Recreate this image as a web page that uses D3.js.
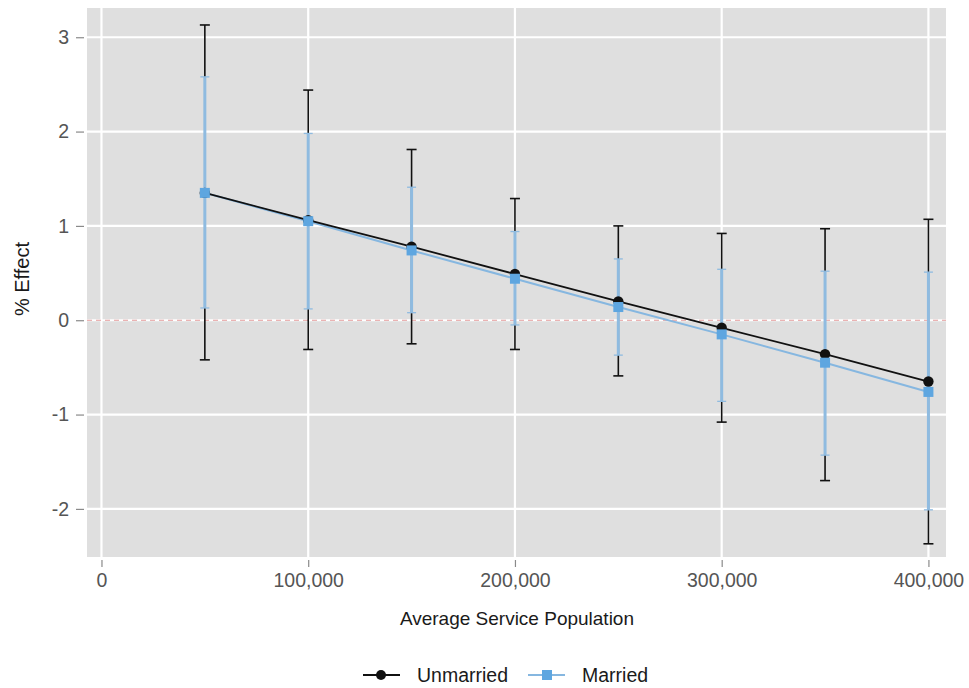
<!DOCTYPE html>
<html>
<head>
<meta charset="utf-8">
<script src="https://cdn.jsdelivr.net/npm/d3@7"></script>
<style>
  html, body { margin: 0; padding: 0; background: #ffffff; }
  svg { display: block; font-family: "Liberation Sans", Arial, Helvetica, sans-serif; }
</style>
</head>
<body>
<svg id="chart" width="969" height="688"></svg>
<script>
// Average service population (x positions of the estimates)
const population = [50000, 100000, 150000, 200000, 250000, 300000, 350000, 400000];

// Unmarried: point estimate and 95% interval
const unmarriedEst   = [1.35, 1.06, 0.78, 0.49, 0.20, -0.08, -0.36, -0.65];
const unmarriedLower = [-0.42, -0.31, -0.25, -0.31, -0.59, -1.08, -1.70, -2.37];
const unmarriedUpper = [3.13, 2.44, 1.81, 1.29, 1.00, 0.92, 0.97, 1.07];

// Married: point estimate and 95% interval
const marriedEst   = [1.35, 1.05, 0.74, 0.44, 0.14, -0.15, -0.45, -0.76];
const marriedLower = [0.13, 0.12, 0.08, -0.05, -0.37, -0.86, -1.43, -2.01];
const marriedUpper = [2.58, 1.98, 1.41, 0.94, 0.65, 0.54, 0.52, 0.51];

const xTicks = [0, 100000, 200000, 300000, 400000];
const yTicks = [-2, -1, 0, 1, 2, 3];
const seriesNames = ["Unmarried", "Married"];

const svg = d3.select("#chart");
const panel = { left: 87, right: 946, top: 8, bottom: 557 };

const x = d3.scaleLinear().domain([-7000, 408500]).range([panel.left, panel.right]);
const y = d3.scaleLinear().domain([-2.51, 3.31]).range([panel.bottom, panel.top]);

const colBlack = "#111111";
const colBlueLine = "#86b7e0";
const colBlueBar = "#8fbbe0";
const colBlueMark = "#5ea6e0";

// panel background
svg.append("rect")
  .attr("x", panel.left).attr("y", panel.top)
  .attr("width", panel.right - panel.left).attr("height", panel.bottom - panel.top)
  .attr("fill", "#dfdfdf");

// grid
const grid = svg.append("g");
grid.selectAll("line.gx").data(xTicks).join("line")
  .attr("x1", d => x(d)).attr("x2", d => x(d))
  .attr("y1", panel.top).attr("y2", panel.bottom)
  .attr("stroke", "#ffffff").attr("stroke-width", 2.2);
grid.selectAll("line.gy").data(yTicks).join("line")
  .attr("x1", panel.left).attr("x2", panel.right)
  .attr("y1", d => y(d)).attr("y2", d => y(d))
  .attr("stroke", "#ffffff").attr("stroke-width", 2.2);

// zero reference
svg.append("line")
  .attr("x1", panel.left).attr("x2", panel.right)
  .attr("y1", y(0)).attr("y2", y(0))
  .attr("stroke", "#e39a9a").attr("stroke-width", 1.2)
  .attr("stroke-dasharray", "5,4");

// axes
const xAxis = d3.axisBottom(x).tickValues(xTicks)
  .tickFormat(d3.format(",")).tickSize(7).tickPadding(6);
const gx = svg.append("g").attr("transform", `translate(0,${panel.bottom + 3})`).call(xAxis);
gx.select(".domain").remove();
gx.selectAll(".tick line").attr("stroke", "#8a8a8a").attr("stroke-width", 1.2);
gx.selectAll(".tick text").attr("fill", "#555555").style("font-size", "19.5px");

// plain hyphen for negative values
const yAxis = d3.axisLeft(y).tickValues(yTicks)
  .tickFormat(d => String(d)).tickSize(8).tickPadding(7);
const gy = svg.append("g").attr("transform", `translate(${panel.left - 3},0)`).call(yAxis);
gy.select(".domain").remove();
gy.selectAll(".tick line").attr("stroke", "#8a8a8a").attr("stroke-width", 1.2);
gy.selectAll(".tick text").attr("fill", "#555555").style("font-size", "19.5px");

// axis titles
svg.append("text")
  .attr("x", (x(0) + x(400000)) / 2 + 2).attr("y", 625)
  .attr("text-anchor", "middle").attr("fill", "#1a1a1a")
  .style("font-size", "19px")
  .text("Average Service Population");

svg.append("text")
  .attr("transform", `translate(29,279) rotate(-90)`)
  .attr("text-anchor", "middle").attr("fill", "#1a1a1a")
  .style("font-size", "20px")
  .text("% Effect");

// build rows
const rowsU = population.map((p, i) => ({ p, est: unmarriedEst[i], lo: unmarriedLower[i], hi: unmarriedUpper[i] }));
const rowsM = population.map((p, i) => ({ p, est: marriedEst[i], lo: marriedLower[i], hi: marriedUpper[i] }));

// unmarried error bars
const ebU = svg.append("g").attr("stroke", colBlack).attr("stroke-width", 1.6);
ebU.selectAll("line.v").data(rowsU).join("line")
  .attr("x1", d => x(d.p)).attr("x2", d => x(d.p))
  .attr("y1", d => y(d.lo)).attr("y2", d => y(d.hi));
ebU.selectAll("line.lo").data(rowsU).join("line")
  .attr("x1", d => x(d.p) - 5).attr("x2", d => x(d.p) + 5)
  .attr("y1", d => y(d.lo)).attr("y2", d => y(d.lo));
ebU.selectAll("line.hi").data(rowsU).join("line")
  .attr("x1", d => x(d.p) - 5).attr("x2", d => x(d.p) + 5)
  .attr("y1", d => y(d.hi)).attr("y2", d => y(d.hi));

// married error bars
const ebM = svg.append("g").attr("stroke", colBlueBar);
ebM.selectAll("line.v").data(rowsM).join("line")
  .attr("stroke-width", 3)
  .attr("x1", d => x(d.p)).attr("x2", d => x(d.p))
  .attr("y1", d => y(d.lo)).attr("y2", d => y(d.hi));
ebM.selectAll("line.lo").data(rowsM).join("line")
  .attr("stroke-width", 1.3)
  .attr("x1", d => x(d.p) - 4.5).attr("x2", d => x(d.p) + 4.5)
  .attr("y1", d => y(d.lo)).attr("y2", d => y(d.lo));
ebM.selectAll("line.hi").data(rowsM).join("line")
  .attr("stroke-width", 1.3)
  .attr("x1", d => x(d.p) - 4.5).attr("x2", d => x(d.p) + 4.5)
  .attr("y1", d => y(d.hi)).attr("y2", d => y(d.hi));

// connecting lines
const line = d3.line().x(d => x(d.p)).y(d => y(d.est));
svg.append("path").datum(rowsM).attr("d", line)
  .attr("fill", "none").attr("stroke", colBlueLine).attr("stroke-width", 2);
svg.append("path").datum(rowsU).attr("d", line)
  .attr("fill", "none").attr("stroke", colBlack).attr("stroke-width", 1.8);

// markers
svg.append("g").selectAll("circle").data(rowsU).join("circle")
  .attr("cx", d => x(d.p)).attr("cy", d => y(d.est)).attr("r", 5.2)
  .attr("fill", colBlack);
const sq = 10;
svg.append("g").selectAll("rect").data(rowsM).join("rect")
  .attr("x", d => x(d.p) - sq / 2).attr("y", d => y(d.est) - sq / 2)
  .attr("width", sq).attr("height", sq)
  .attr("fill", colBlueMark);

// legend
const legend = svg.append("g");
const lgY = 675;
const lgItems = [
  { name: seriesNames[0], x0: 363, color: colBlack, shape: "circle" },
  { name: seriesNames[1], x0: 528, color: colBlueLine, shape: "square" }
];
lgItems.forEach(it => {
  legend.append("line").attr("x1", it.x0).attr("x2", it.x0 + 37)
    .attr("y1", lgY).attr("y2", lgY)
    .attr("stroke", it.color).attr("stroke-width", it.shape === "circle" ? 1.8 : 2);
  if (it.shape === "circle") {
    legend.append("circle").attr("cx", it.x0 + 18).attr("cy", lgY).attr("r", 5).attr("fill", colBlack);
  } else {
    legend.append("rect").attr("x", it.x0 + 14).attr("y", lgY - 5).attr("width", 10).attr("height", 10).attr("fill", colBlueMark);
  }
  legend.append("text").attr("x", it.x0 + 54).attr("y", lgY + 7)
    .attr("fill", "#1a1a1a").style("font-size", "19.5px").text(it.name);
});
</script>
</body>
</html>
